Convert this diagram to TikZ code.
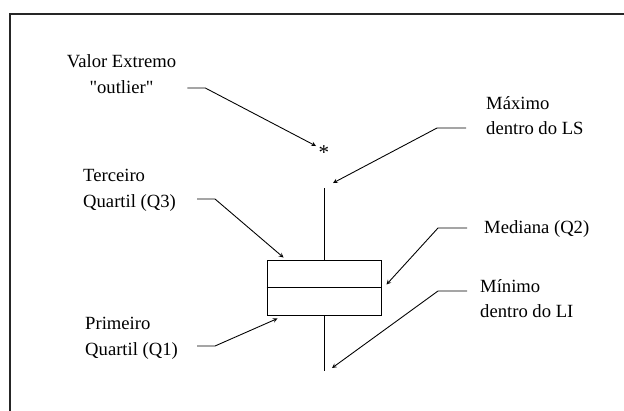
\documentclass[tikz,border=0pt]{standalone}
\usepackage{fontspec}
\setmainfont{Liberation Serif}
\usepackage{tikz}
\usetikzlibrary{arrows,positioning,calc}
\tikzstyle{arrow} = [line width=0.75pt,->,>=stealth]
\tikzstyle{notetext} = [inner sep=0pt, align=left]
\tikzstyle{plot} = [line width=0.85pt]

\begin{document}
\begin{tikzpicture}[x=0.03cm, y=-0.03cm, font=\fontsize{15.9pt}{22pt}\selectfont]
\useasboundingbox (0,0) rectangle (624,410);
% moldura
\draw[line width=2.2pt, color=black!85] (10,420) -- (10,14) -- (640,14);

% boxplot
\node[draw, plot, inner sep=0pt, minimum width=3.42cm, minimum height=1.65cm] (caixa) at (324,287.5) {};
\draw[plot] (caixa.west) -- (caixa.east);
\coordinate (ls) at (324,188);
\coordinate (li) at (324,371);
\draw[plot] (caixa.north) -- (ls);
\draw[plot] (caixa.south) -- (li);
\node[inner sep=0pt, font=\fontsize{18pt}{18pt}\selectfont] (star) at (324,153) {*};

% textos
\node[notetext, align=center] (valor) at (121.5,74) {Valor Extremo\\\textquotedbl outlier\textquotedbl};
\node[notetext, anchor=west] (maximo) at (486,115.5) {Máximo\\dentro do LS};
\node[notetext, anchor=west] (terceiro) at (83,190.5) {Terceiro\\Quartil (Q3)};
\node[notetext, anchor=west] (mediana) at (484,229) {Mediana (Q2)};
\node[notetext, anchor=west] (minimo) at (480,298.5) {Mínimo\\dentro do LI};
\node[notetext, anchor=west] (primeiro) at (85,338.5) {Primeiro\\Quartil (Q1)};

% setas
\draw[arrow] ($(valor.east)+(11,14)$) -- ++(18,0) -- ($(star)+(-8,-7)$);
\draw[arrow] ($(maximo.west)+(-20,12.5)$) -- ++(-29,0) -- ($(ls)+(9,-5)$);
\draw[arrow] ($(terceiro.west)+(114,8.5)$) -- ++(18,0) -- ($(caixa.north west)+(17,-2)$);
\draw[arrow] ($(mediana.west)+(-17,-1)$) -- ++(-29,0) -- ($(caixa.east)+(5,-3)$);
\draw[arrow] ($(minimo.west)+(-13,-7.5)$) -- ++(-29,0) -- ($(li)+(8,-3)$);
\draw[arrow] ($(primeiro.west)+(112,7.5)$) -- ++(18,0) -- ($(caixa.south west)+(11,3)$);
\end{tikzpicture}
\end{document}
